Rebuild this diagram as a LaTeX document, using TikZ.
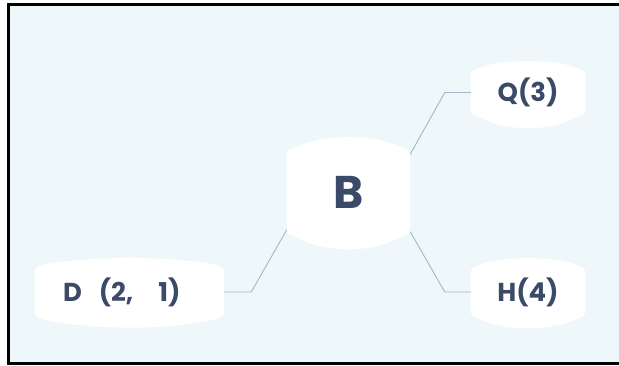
\documentclass[tikz,border=0pt]{standalone}
\usepackage{fontspec}
\setmainfont{Poppins}
\usetikzlibrary{calc,backgrounds}
\definecolor{bgblue}{HTML}{EEF7FA}
\definecolor{txt}{HTML}{3B4B67}
\definecolor{conn}{HTML}{A6B6C4}
\tikzset{
  lbl/.style={inner sep=0pt, text=txt, font=\bfseries\fontsize{26}{30}\selectfont},
  conline/.style={draw=conn, line width=0.9bp},
}
\newcommand{\blobfill}[3]{% node, top bulge, bottom bulge
  \path let \p1=(#1.north west), \p2=(#1.south east), \n1={\x2-\x1} in
    [fill=white]
    (\x1,\y1-9) -- (\x1,\y2+9)
    .. controls (\x1,\y2+1) .. (\x1+10,\y2-2.5)
    .. controls (\x1+0.3*\n1,\y2-#3*1.1) and (\x2-0.3*\n1,\y2-#3*1.1) .. (\x2-10,\y2-2.5)
    .. controls (\x2,\y2+1) .. (\x2,\y2+9)
    -- (\x2,\y1-9)
    .. controls (\x2,\y1-1) .. (\x2-10,\y1+2.5)
    .. controls (\x2-0.3*\n1,\y1+#2*1.1) and (\x1+0.3*\n1,\y1+#2*1.1) .. (\x1+10,\y1+2.5)
    .. controls (\x1,\y1-1) .. cycle;
}
\begin{document}
\begin{tikzpicture}[x=1bp,y=1bp]
\useasboundingbox (0,0) rectangle (619,365);
% nodes (pixel y measured from top -> 365 - y)
\node[lbl, minimum width=123bp, minimum height=85bp, font=\bfseries\fontsize{46}{50}\selectfont] (B) at (348.5,173) {B};
\node[lbl, minimum width=114bp, minimum height=45bp] (Q) at (528,272.5) {Q(3)};
\node[lbl, minimum width=114bp, minimum height=50bp] (H) at (528,73) {H(4)};
\node[lbl, minimum width=189bp, minimum height=50bp] (D) at (129.5,73) {\makebox[189bp][l]{\hspace{28bp}D\hspace{17bp}(2,\hspace{25bp}1)}};
\begin{scope}[on background layer]
  \clip (0,0) rectangle (619,365);
  \fill[bgblue] (8,1.5) rectangle (640,360.5);
  \draw[black, line width=3bp] (640,360.5) -- (8,360.5) -- (8,1.5) -- (640,1.5);
  \blobfill{B}{14}{17}
  \blobfill{Q}{10}{15}
  \blobfill{H}{10}{13}
  \blobfill{D}{10}{12}
\end{scope}
% connectors
\draw[conline] (D.east) -- ++(27,0) -- ($(B.south west)+(0,5)$);
\draw[conline] (Q.west) -- ++(-26,0) -- ($(B.north east)+(0,-5)$);
\draw[conline] (H.west) -- ++(-26,0) -- ($(B.south east)+(0,3)$);
\end{tikzpicture}
\end{document}
